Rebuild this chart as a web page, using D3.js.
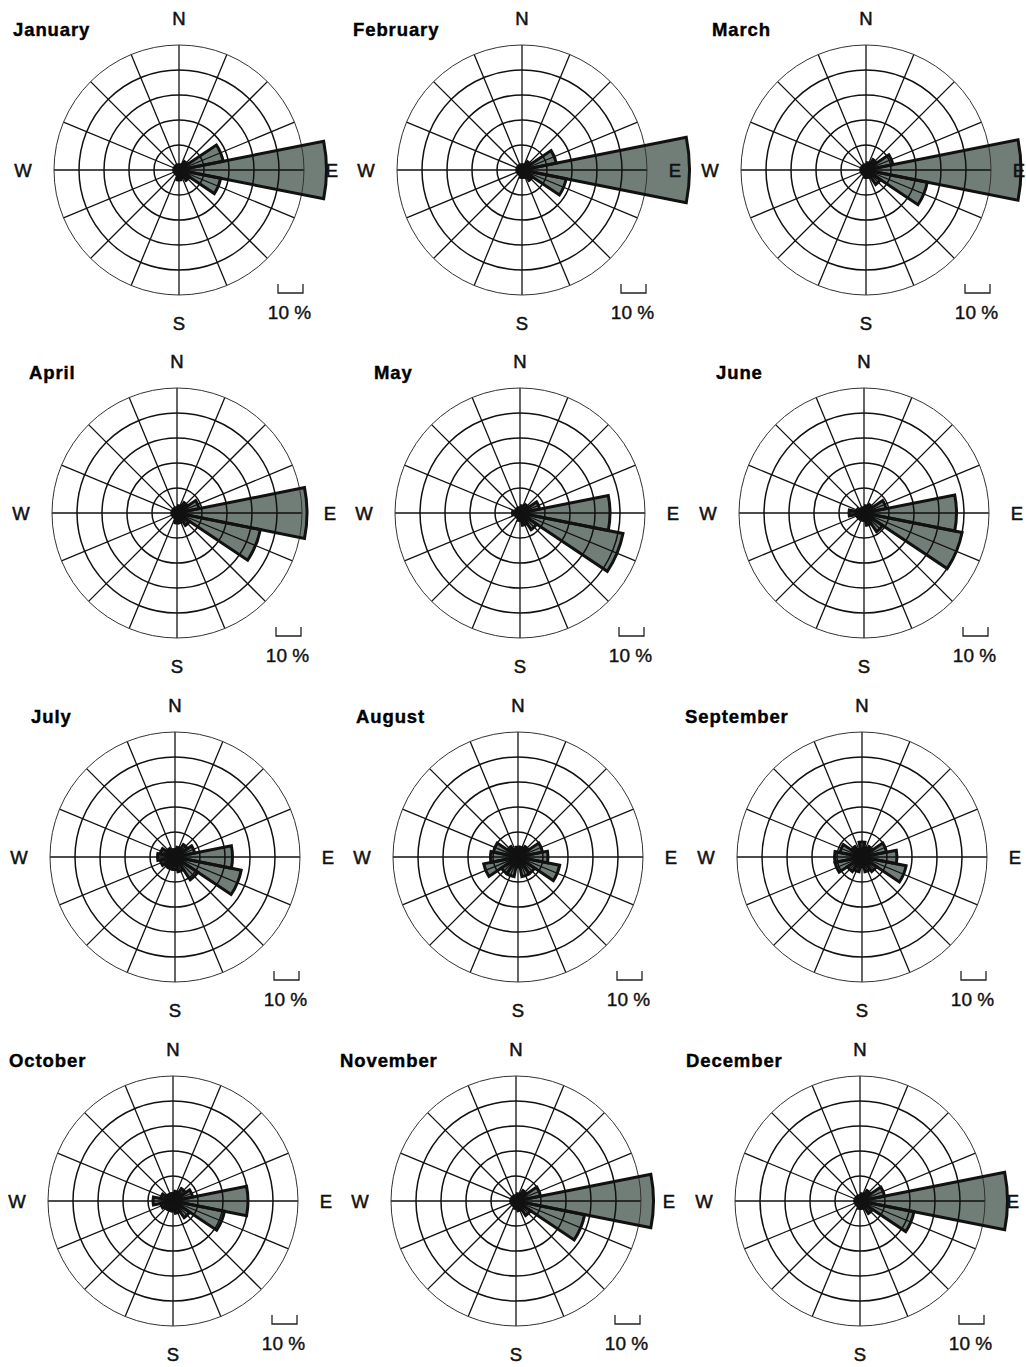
<!DOCTYPE html>
<html>
<head>
<meta charset="utf-8">
<script src="https://cdn.jsdelivr.net/npm/d3@7"></script>
<style>
  body { margin: 0; background: #fff; }
  svg { display: block; }
</style>
</head>
<body>
<svg id="chart" width="1026" height="1367"></svg>
<script>
// ---------- data ----------
const months = ["January", "February", "March", "April", "May", "June",
                "July", "August", "September", "October", "November", "December"];
const directions = ["N", "NNE", "NE", "ENE", "E", "ESE", "SE", "SSE",
                    "S", "SSW", "SW", "WSW", "W", "WNW", "NW", "NNW"];
const ringTicks = [10, 20, 30, 40, 50];   // percent
const scaleBarValue = 10;
const scaleBarLabel = "10 %";
const compassLabels = ["N", "E", "S", "W"];

// frequency (%) per direction, order as in `directions`
const janValues = [2, 2, 4, 18, 59, 17, 5, 3, 4, 2, 2, 2, 2, 2, 2, 2];
const febValues = [2, 2, 4, 14, 67, 18, 5, 3, 3, 2, 2, 2, 2, 2, 2, 2];
const marValues = [2, 3, 5, 11, 62, 25, 7, 3, 3, 2, 2, 2, 2, 2, 2, 2];
const aprValues = [2, 3, 5, 9, 52, 34, 6, 4, 4, 2, 2, 2, 2, 2, 2, 2];
const mayValues = [2, 3, 4, 8, 36, 42, 8, 5, 3, 2, 2, 2, 3, 2, 2, 2];
const junValues = [2, 3, 4, 9, 37, 40, 9, 5, 3, 2, 3, 3, 6, 3, 2, 2];
const julValues = [3, 4, 6, 8, 23, 27, 11, 6, 5, 5, 5, 6, 7, 6, 4, 3];
const augValues = [4, 4, 5, 10, 12, 17, 8, 8, 4, 8, 8, 14, 11, 10, 5, 3];
const sepValues = [6, 4, 5, 10, 14, 18, 7, 6, 4, 6, 7, 11, 11, 9, 5, 3];
const octValues = [3, 4, 6, 8, 30, 21, 8, 5, 4, 4, 4, 5, 8, 5, 3, 3];
const novValues = [2, 3, 5, 10, 55, 28, 7, 4, 3, 2, 2, 2, 2, 2, 2, 2];
const decValues = [2, 3, 5, 10, 59, 22, 6, 3, 3, 2, 2, 2, 2, 2, 2, 2];
const monthSeries = [janValues, febValues, marValues, aprValues, mayValues, junValues,
                     julValues, augValues, sepValues, octValues, novValues, decValues];

// ---------- layout ----------
const colX = [179, 522, 866];
const rowY = [170, 513, 857, 1201];
const rowDrift = -2;
const titleDx = [-166, -169, -154, -148, -146, -148, -144, -162, -177, -164, -176, -174];

const svg = d3.select("#chart");
const r = d3.scaleLinear().domain([0, 10]).range([0, 25]);
const sectorWidth = 2 * Math.PI / directions.length;
const angle = d3.scaleBand().domain(directions).range([0, 2 * Math.PI]);
const arc = d3.arc()
  .innerRadius(0)
  .outerRadius(d => r(d.value))
  .startAngle(d => angle(d.dir) - sectorWidth / 2)
  .endAngle(d => angle(d.dir) + sectorWidth / 2);

const outerR = r(d3.max(ringTicks));
const font = "'Liberation Sans', Arial, Helvetica, sans-serif";

months.forEach((m, i) => {
  const col = i % 3, row = Math.floor(i / 3);
  const cx = colX[col] + row * rowDrift;
  const cy = rowY[row];
  const g = svg.append("g").attr("transform", `translate(${cx},${cy})`);
  const data = directions.map((dir, k) => ({ dir, value: monthSeries[i][k] }));

  // sector fills
  g.selectAll("path.fill").data(data).join("path")
    .attr("class", "fill")
    .attr("d", arc)
    .attr("fill", "#717e78");

  // grid: spokes
  g.selectAll("line.spoke").data(directions).join("line")
    .attr("class", "spoke")
    .attr("x1", 0).attr("y1", 0)
    .attr("x2", d => outerR * Math.sin(angle(d)))
    .attr("y2", d => -outerR * Math.cos(angle(d)))
    .attr("stroke", "#111").attr("stroke-width", 1.3);

  // grid: rings
  g.selectAll("circle.ring").data(ringTicks).join("circle")
    .attr("class", "ring")
    .attr("r", d => r(d))
    .attr("fill", "none")
    .attr("stroke", d => d === d3.max(ringTicks) ? "#333" : "#111")
    .attr("stroke-width", d => d === d3.max(ringTicks) ? 1 : 1.5);

  // sector outlines
  g.selectAll("path.outline").data(data).join("path")
    .attr("class", "outline")
    .attr("d", arc)
    .attr("fill", "none")
    .attr("stroke", "#111")
    .attr("stroke-width", 3)
    .attr("stroke-linejoin", "miter");

  // compass labels
  const labelPos = {
    N: [0, -145.5], S: [0, 160], E: [153, 6.5], W: [-156, 6.5]
  };
  g.selectAll("text.compass").data(compassLabels).join("text")
    .attr("class", "compass")
    .attr("x", d => labelPos[d][0])
    .attr("y", d => labelPos[d][1])
    .attr("text-anchor", "middle")
    .attr("font-family", font)
    .attr("font-size", 18.5)
    .attr("fill", "#111")
    .attr("stroke", "#111")
    .attr("stroke-width", 0.5)
    .text(d => d);

  // title
  g.append("text")
    .attr("x", titleDx[i])
    .attr("y", -134)
    .attr("font-family", font)
    .attr("font-weight", "bold")
    .attr("font-size", 18.5)
    .attr("letter-spacing", 0.9)
    .attr("fill", "#000")
    .attr("stroke", "#000")
    .attr("stroke-width", 0.4)
    .text(m);

  // scale bar
  const bx0 = 99, bx1 = bx0 + r(scaleBarValue), by0 = 114, by1 = 123;
  g.append("path")
    .attr("d", `M${bx0},${by0}V${by1}H${bx1}V${by0}`)
    .attr("fill", "none")
    .attr("stroke", "#222")
    .attr("stroke-width", 1.3);
  g.append("text")
    .attr("x", (bx0 + bx1) / 2 - 1)
    .attr("y", 149)
    .attr("text-anchor", "middle")
    .attr("font-family", font)
    .attr("font-size", 19)
    .attr("fill", "#111")
    .attr("stroke", "#111")
    .attr("stroke-width", 0.4)
    .text(scaleBarLabel);
});
</script>
</body>
</html>
